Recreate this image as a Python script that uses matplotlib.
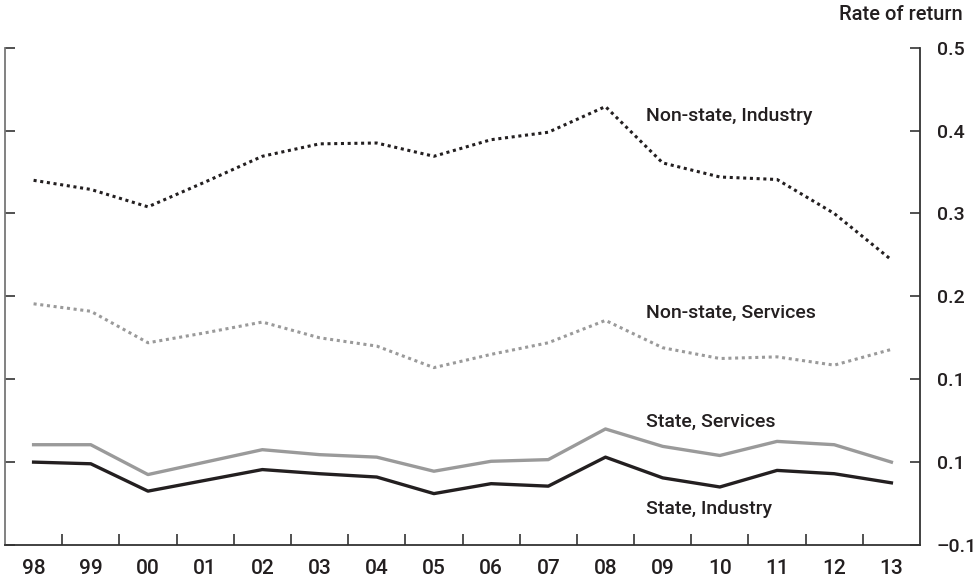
import numpy as np
import matplotlib.pyplot as plt

plt.rcParams['font.family'] = ['Liberation Sans Narrow', 'Roboto', 'DejaVu Sans']

years = ["98", "99", "00", "01", "02", "03", "04", "05", "06", "07", "08", "09", "10", "11", "12", "13"]

nonstate_industry = [0.340, 0.329, 0.308, 0.338, 0.369, 0.384, 0.385, 0.369, 0.389, 0.398,
                     0.429, 0.361, 0.344, 0.341, 0.300, 0.244]
nonstate_services = [0.191, 0.182, 0.144, 0.156, 0.169, 0.150, 0.140, 0.114, 0.130, 0.144,
                     0.171, 0.138, 0.125, 0.127, 0.117, 0.136]
state_services = [0.021, 0.021, -0.015, 0.000, 0.015, 0.009, 0.006, -0.011, 0.001, 0.003,
                  0.040, 0.019, 0.008, 0.025, 0.021, 0.000]
state_industry = [0.000, -0.002, -0.035, -0.022, -0.009, -0.014, -0.018, -0.038, -0.026, -0.029,
                  0.006, -0.019, -0.030, -0.010, -0.014, -0.025]

yticks = [0.5, 0.4, 0.3, 0.2, 0.1, 0.0, -0.1]
ytick_labels = ["0.5", "0.4", "0.3", "0.2", "0.1", "0.1", "\u20130.1"]

txt = '#231f20'
x = np.arange(len(years))

fig = plt.figure(figsize=(9.76, 5.83), dpi=100)
ax = fig.add_axes([5/976, 1 - 545/583, 915/976, (545 - 47.7)/583])

ax.plot(x, nonstate_industry, color='#231f20', lw=2.2, linestyle=(0, (1, 1.2)))
ax.plot(x, nonstate_services, color='#9a9a9a', lw=2.2, linestyle=(0, (1, 1.2)))
ax.plot(x, state_services, color='#9a9a9a', lw=2.4)
ax.plot(x, state_industry, color='#231f20', lw=2.4)

ax.set_xlim(-0.5, 15.5)
ax.set_ylim(-0.1, 0.5)

ax.spines['top'].set_visible(False)
ax.spines['left'].set_color('#777777')
ax.spines['right'].set_color('#333333')
ax.spines['bottom'].set_color('#333333')
for s in ['left', 'right', 'bottom']:
    ax.spines[s].set_linewidth(1.3)

ax.yaxis.tick_right()
ax.set_yticks(yticks)
ax.set_yticklabels(ytick_labels)
ax.tick_params(axis='y', which='both', direction='in', length=7, width=1.2, color='#333333',
               left=True, right=True, labelleft=False, labelright=True, pad=12,
               labelsize=14, labelcolor=txt)

ax.set_xticks(x)
ax.set_xticklabels(years)
ax.set_xticks(x[:-1] + 0.5, minor=True)
ax.tick_params(axis='x', which='major', length=0, pad=10, labelsize=15, labelcolor=txt)
ax.tick_params(axis='x', which='minor', direction='in', length=8, width=1.2, color='#333333')

for lab in ax.get_xticklabels() + ax.get_yticklabels():
    lab.set_fontweight('medium')

lab_kw = dict(fontsize=14, color=txt, va='center', ha='left', fontweight='medium')
ax.text(10.7, 0.418, "Non-state, Industry", **lab_kw)
ax.text(10.7, 0.180, "Non-state, Services", **lab_kw)
ax.text(10.7, 0.049, "State, Services", **lab_kw)
ax.text(10.7, -0.057, "State, Industry", **lab_kw)

fig.text(963/976, 1 - 15/583, "Rate of return", ha='right', va='center', fontsize=14.5,
         color=txt, fontweight='medium')

fig.savefig("out.png", dpi=100)
